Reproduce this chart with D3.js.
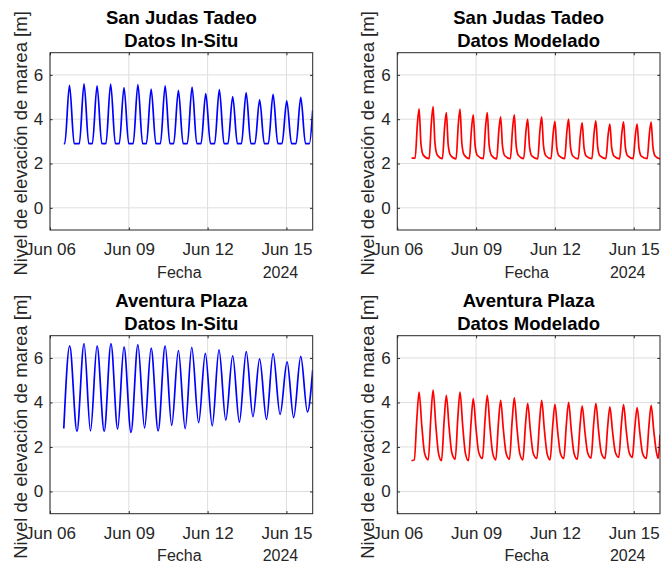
<!DOCTYPE html>
<html>
<head>
<meta charset="utf-8">
<script src="https://cdn.jsdelivr.net/npm/d3@7"></script>
<style>
  body { margin: 0; background: #fff; }
  svg { display: block; }
  text { font-family: "Liberation Sans", Arial, Helvetica, sans-serif; }
</style>
</head>
<body>
<svg id="fig" width="664" height="566"></svg>
<script>
// ---- chart content ----
const stationNames = ["San Judas Tadeo", "Aventura Plaza"];
const sourceNames = ["Datos In-Situ", "Datos Modelado"];
const yTickValues = [0, 2, 4, 6];
const xTickDates = ["2024-06-06", "2024-06-09", "2024-06-12", "2024-06-15"];
const xDomainDates = ["2024-06-06", "2024-06-16"];
const yDomain = [-1, 7];
const xLabelText = "Fecha";
const yearText = "2024";
const yLabelText = "Nivel de elevación de marea [m]";

// Tide level series: [hours since 2024-06-06 00:00 UTC, level in m]
const sanJudasInSitu = [
  [12.6,2.9],[13.5,2.9],[17.8,5.53],[22.1,2.9],[26.8,2.9],[31.1,5.60],[35.4,2.9],[38.7,2.9],
  [43.0,5.50],[47.3,2.9],[51.1,2.9],[55.4,5.58],[59.7,2.9],[63.3,2.9],[67.6,5.43],[71.9,2.9],
  [76.0,2.9],[80.3,5.56],[84.6,2.9],[88.1,2.9],[92.4,5.36],[96.7,2.9],[100.9,2.9],[105.2,5.50],
  [109.5,2.9],[113.0,2.9],[117.3,5.30],[121.6,2.9],[125.5,2.9],[129.8,5.45],[134.1,2.9],[138.0,2.9],
  [142.3,5.15],[146.6,2.9],[150.4,2.9],[154.7,5.33],[159.0,2.9],[162.6,2.9],[166.9,5.02],[171.2,2.9],
  [174.9,2.9],[179.2,5.20],[183.5,2.9],[187.2,2.9],[191.5,4.87],[195.8,2.9],[199.5,2.9],[203.8,5.12],
  [208.1,2.9],[212.0,2.9],[216.3,4.83],[220.6,2.9],[224.8,2.9],[229.1,4.98],[233.4,2.9],[237.0,2.9],
  [240.0,4.4]
];

const sanJudasModelado = [
  [12.9,2.25],[16.3,2.24],[18.3,3.75],[19.9,4.47],[21.6,2.90],[23.7,2.38],
  [29.1,2.22],[31.1,3.82],[32.7,4.57],[34.4,2.93],[36.5,2.38],
  [41.2,2.22],[43.2,3.63],[44.8,4.30],[46.5,2.84],[48.6,2.37],
  [53.7,2.21],[55.7,3.74],[57.3,4.45],[59.0,2.89],[61.1,2.38],
  [65.8,2.22],[67.8,3.57],[69.4,4.20],[71.1,2.81],[73.2,2.36],
  [78.6,2.22],[80.6,3.63],[82.2,4.30],[83.9,2.84],[86.0,2.37],
  [90.8,2.21],[92.8,3.51],[94.4,4.11],[96.1,2.79],[98.2,2.35],
  [103.3,2.22],[105.3,3.57],[106.9,4.20],[108.6,2.81],[110.7,2.36],
  [115.5,2.22],[117.5,3.43],[119.1,4.00],[120.8,2.75],[122.9,2.34],
  [128.3,2.21],[130.3,3.50],[131.9,4.10],[133.6,2.78],[135.7,2.35],
  [140.4,2.22],[142.4,3.36],[144.0,3.90],[145.7,2.72],[147.8,2.34],
  [152.9,2.22],[154.9,3.43],[156.5,4.00],[158.2,2.75],[160.3,2.34],
  [165.3,2.21],[167.3,3.32],[168.9,3.84],[170.6,2.71],[172.7,2.33],
  [177.8,2.22],[179.8,3.38],[181.4,3.93],[183.1,2.73],[185.2,2.34],
  [190.6,2.22],[192.6,3.28],[194.2,3.78],[195.9,2.69],[198.0,2.33],
  [203.1,2.21],[205.1,3.35],[206.7,3.88],[208.4,2.72],[210.5,2.34],
  [215.5,2.22],[217.5,3.28],[219.1,3.78],[220.8,2.69],[222.9,2.33],
  [228.3,2.22],[230.3,3.34],[231.9,3.87],[233.6,2.72],[235.7,2.33],
  [240.0,2.21]
];

const aventuraInSitu = [
  [12.6,2.83],[18.0,6.54],[24.6,2.70],[31.1,6.65],[37.0,2.72],[43.0,6.54],[49.5,2.70],[55.7,6.65],
  [61.8,2.80],[67.6,6.50],[74.0,2.65],[80.3,6.60],[86.4,2.85],[92.4,6.44],[98.8,2.72],[105.2,6.54],
  [111.2,2.97],[117.3,6.33],[123.5,2.82],[129.5,6.48],[135.8,3.09],[141.9,6.21],[148.2,2.95],[154.4,6.36],
  [160.6,3.21],[166.9,6.10],[173.0,3.12],[179.3,6.28],[185.4,3.36],[191.5,5.96],[197.8,3.24],[203.8,6.20],
  [210.2,3.46],[216.6,5.82],[222.6,3.32],[229.1,6.07],[235.2,3.57],[240.0,5.45]
];

const aventuraModelado = [
  [12.9,1.38],[15.5,1.42],[17.9,3.30],[19.9,4.47],[22.4,2.95],[24.9,1.73],[28.3,1.42],
  [30.7,3.37],[32.7,4.56],[35.2,2.97],[37.7,1.70],[40.4,1.38],
  [42.8,3.20],[44.8,4.32],[47.3,2.89],[49.8,1.74],[52.9,1.45],
  [55.3,3.32],[57.3,4.46],[59.8,2.92],[62.3,1.69],[65.0,1.38],
  [67.4,3.11],[69.4,4.17],[71.9,2.83],[74.4,1.75],[77.8,1.48],
  [80.2,3.24],[82.2,4.32],[84.7,2.87],[87.2,1.71],[90.0,1.42],
  [92.4,3.08],[94.4,4.10],[96.9,2.78],[99.4,1.72],[102.5,1.45],
  [104.9,3.16],[106.9,4.21],[109.4,2.82],[111.9,1.70],[114.7,1.42],
  [117.1,2.99],[119.1,3.96],[121.6,2.72],[124.1,1.73],[127.5,1.48],
  [129.9,3.10],[131.9,4.09],[134.4,2.76],[136.9,1.69],[139.6,1.42],
  [142.0,2.96],[144.0,3.91],[146.5,2.70],[149.0,1.72],[152.1,1.48],
  [154.5,3.05],[156.5,4.01],[159.0,2.73],[161.5,1.71],[164.5,1.45],
  [166.9,2.94],[168.9,3.85],[171.4,2.68],[173.9,1.74],[177.0,1.50],
  [179.4,3.03],[181.4,3.96],[183.9,2.72],[186.4,1.73],[189.8,1.48],
  [192.2,2.92],[194.2,3.80],[196.7,2.67],[199.2,1.76],[202.3,1.53],
  [204.7,3.00],[206.7,3.90],[209.2,2.72],[211.7,1.77],[214.7,1.53],
  [217.1,2.92],[219.1,3.77],[221.6,2.63],[224.1,1.71],[227.5,1.48],
  [229.9,2.96],[231.9,3.87],[234.4,2.68],[236.9,1.72],[238.4,1.48],[240.0,2.55]
];

// ---- layout ----
const colExtent = [[50, 312.7], [397.3, 660]];
const rowExtent = [[52.7, 230], [335.7, 513.7]];
const axisInk = "#262626";
const gridInk = "#dedede";

const panels = [
  { row: 0, col: 0, station: stationNames[0], source: sourceNames[0], series: sanJudasInSitu, color: "#0000ff" },
  { row: 0, col: 1, station: stationNames[0], source: sourceNames[1], series: sanJudasModelado, color: "#ff0000" },
  { row: 1, col: 0, station: stationNames[1], source: sourceNames[0], series: aventuraInSitu, color: "#0000ff" },
  { row: 1, col: 1, station: stationNames[1], source: sourceNames[1], series: aventuraModelado, color: "#ff0000" }
];

const parseDay = d3.utcParse("%Y-%m-%d");
const origin = parseDay(xDomainDates[0]).getTime();
const toDate = h => new Date(origin + h * 3600000);
const xTicks = xTickDates.map(parseDay);
const fmt = d3.utcFormat("%b %d");

const svg = d3.select("#fig");

panels.forEach((p, i) => {
  const [x0, x1] = colExtent[p.col];
  const [y0, y1] = rowExtent[p.row];
  const xc = (x0 + x1) / 2, yc = (y0 + y1) / 2;

  const x = d3.scaleUtc().domain(xDomainDates.map(parseDay)).range([x0, x1]);
  const y = d3.scaleLinear().domain(yDomain).range([y1, y0]);

  const g = svg.append("g");

  g.append("defs").append("clipPath").attr("id", "clip" + i)
    .append("rect").attr("x", x0).attr("y", y0).attr("width", x1 - x0).attr("height", y1 - y0);

  // grid
  const grid = g.append("g").attr("stroke", gridInk).attr("stroke-width", 1);
  grid.selectAll("line.gx").data(xTicks).join("line").attr("class", "gx")
    .attr("x1", d => x(d)).attr("x2", d => x(d)).attr("y1", y0).attr("y2", y1);
  grid.selectAll("line.gy").data(yTickValues).join("line").attr("class", "gy")
    .attr("x1", x0).attr("x2", x1).attr("y1", d => y(d)).attr("y2", d => y(d));

  // series
  const line = d3.line()
    .x(d => x(toDate(d[0])))
    .y(d => y(d[1]))
    .curve(d3.curveMonotoneX);
  g.append("path")
    .datum(p.series)
    .attr("clip-path", `url(#clip${i})`)
    .attr("fill", "none")
    .attr("stroke", p.color)
    .attr("stroke-width", 1.7)
    .attr("stroke-linejoin", "round")
    .attr("d", line);

  // axes with inward ticks on all four sides
  const styleAxis = a => {
    a.attr("font-size", null).attr("font-family", null).attr("color", axisInk);
    a.select(".domain").remove();
    a.selectAll("line").attr("stroke-width", 1);
  };
  g.append("g").attr("transform", `translate(0,${y1})`)
    .call(d3.axisBottom(x).tickValues(xTicks).tickFormat(fmt).tickSizeInner(-2.6).tickSizeOuter(0).tickPadding(13))
    .call(styleAxis)
    .selectAll("text").attr("font-size", 17).attr("fill", axisInk);
  g.append("g").attr("transform", `translate(0,${y0})`)
    .call(d3.axisTop(x).tickValues(xTicks).tickFormat("").tickSizeInner(-2.6).tickSizeOuter(0))
    .call(styleAxis);
  g.append("g").attr("transform", `translate(${x0},0)`)
    .call(d3.axisLeft(y).tickValues(yTickValues).tickFormat(d3.format("d")).tickSizeInner(-2.6).tickSizeOuter(0).tickPadding(6.7))
    .call(styleAxis)
    .selectAll("text").attr("font-size", 17).attr("fill", axisInk);
  g.append("g").attr("transform", `translate(${x1},0)`)
    .call(d3.axisRight(y).tickValues(yTickValues).tickFormat("").tickSizeInner(-2.6).tickSizeOuter(0))
    .call(styleAxis);

  // box
  g.append("rect")
    .attr("x", x0).attr("y", y0).attr("width", x1 - x0).attr("height", y1 - y0)
    .attr("fill", "none").attr("stroke", axisInk).attr("stroke-width", 1);

  // titles
  g.append("text").attr("x", xc).attr("y", y0 - 29).attr("text-anchor", "middle")
    .attr("font-size", 18.5).attr("font-weight", "bold").attr("fill", "#000").text(p.station);
  g.append("text").attr("x", xc).attr("y", y0 - 5.5).attr("text-anchor", "middle")
    .attr("font-size", 18.5).attr("font-weight", "bold").attr("fill", "#000").text(p.source);

  // x label and year
  g.append("text").attr("x", xc - 2).attr("y", y1 + 47.5).attr("text-anchor", "middle")
    .attr("font-size", 16).attr("fill", axisInk).text(xLabelText);
  g.append("text").attr("x", x(xTicks[xTicks.length - 1]) - 6).attr("y", y1 + 47.5).attr("text-anchor", "middle")
    .attr("font-size", 16).attr("fill", axisInk).text(yearText);

  // y label
  g.append("text")
    .attr("transform", `translate(${x0 - 23.5},${yc + 2}) rotate(-90)`)
    .attr("text-anchor", "middle")
    .attr("font-size", 18.5).attr("fill", axisInk).text(yLabelText);
});
</script>
</body>
</html>
